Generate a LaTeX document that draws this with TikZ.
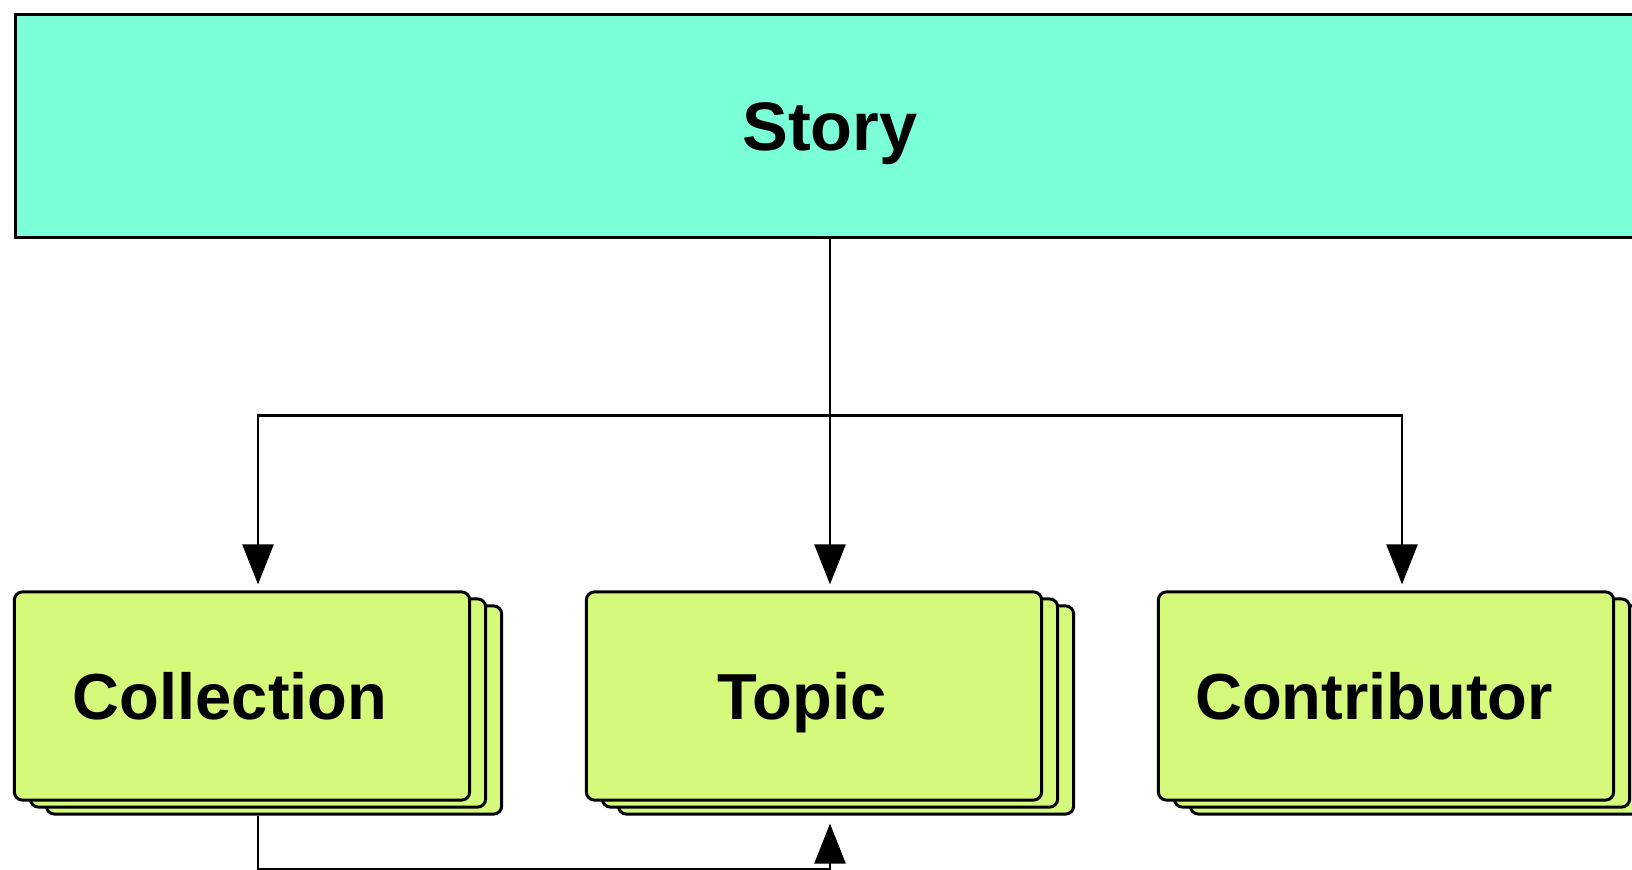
\documentclass[tikz,border=0pt]{standalone}
\usepackage{fontspec}
\setmainfont{Liberation Sans}
\usetikzlibrary{arrows.meta,shadows}
\definecolor{storymint}{HTML}{7BFFD8}
\definecolor{entitygreen}{HTML}{D4F97B}

\begin{document}
\begin{tikzpicture}[x=0.01cm,y=-0.01cm,
    font=\fontsize{18.5}{22}\selectfont\bfseries,
    text height=13.3pt, text depth=0pt,
    storybox/.style={draw=black, line width=0.85pt, fill=storymint, inner sep=0pt,
      minimum width=16.28cm, minimum height=2.22cm, text height=14pt,
      font=\fontsize{19.5}{23}\selectfont\bfseries},
    entity/.style={draw=black, line width=0.85pt, fill=entitygreen, rounded corners=0.08cm,
      inner sep=0pt, minimum width=4.55cm, minimum height=2.08cm,
      execute at end node={\hspace*{0.24cm}},% label sits a bit left of centre
      double copy shadow={shadow xshift=0.16cm, shadow yshift=-0.07cm,
        fill=entitygreen, draw=black, line width=0.85pt}},
    conn/.style={line width=0.7pt, -{Triangle[length=0.4cm,width=0.31cm]}, shorten >=0.06cm}]
    \useasboundingbox (0,0) rectangle (1632,870);
    \clip (0,0) rectangle (1632,870);% the reference is cut at right and bottom
    \node[storybox] (story) at (830,126) {Story};
    \node[entity] (collection) at (242,696) {Collection};
    \node[entity] (topic) at (814,696) {Topic};
    \node[entity] (contributor) at (1386,696) {Contributor};
    \coordinate (split) at ([yshift=-1.77cm]story.south);% branch point
    \draw[conn] (story.south) -- (story.south |- topic.north);
    \draw[conn] (split) -| ([xshift=0.16cm]collection.north);
    \draw[conn] (split) -| ([xshift=0.16cm]contributor.north);
    \draw[conn, shorten >=0.08cm] ([xshift=0.16cm,yshift=-0.14cm]collection.south)
        -- ++(0,54) -| ([xshift=0.16cm,yshift=-0.14cm]topic.south);
\end{tikzpicture}
\end{document}
